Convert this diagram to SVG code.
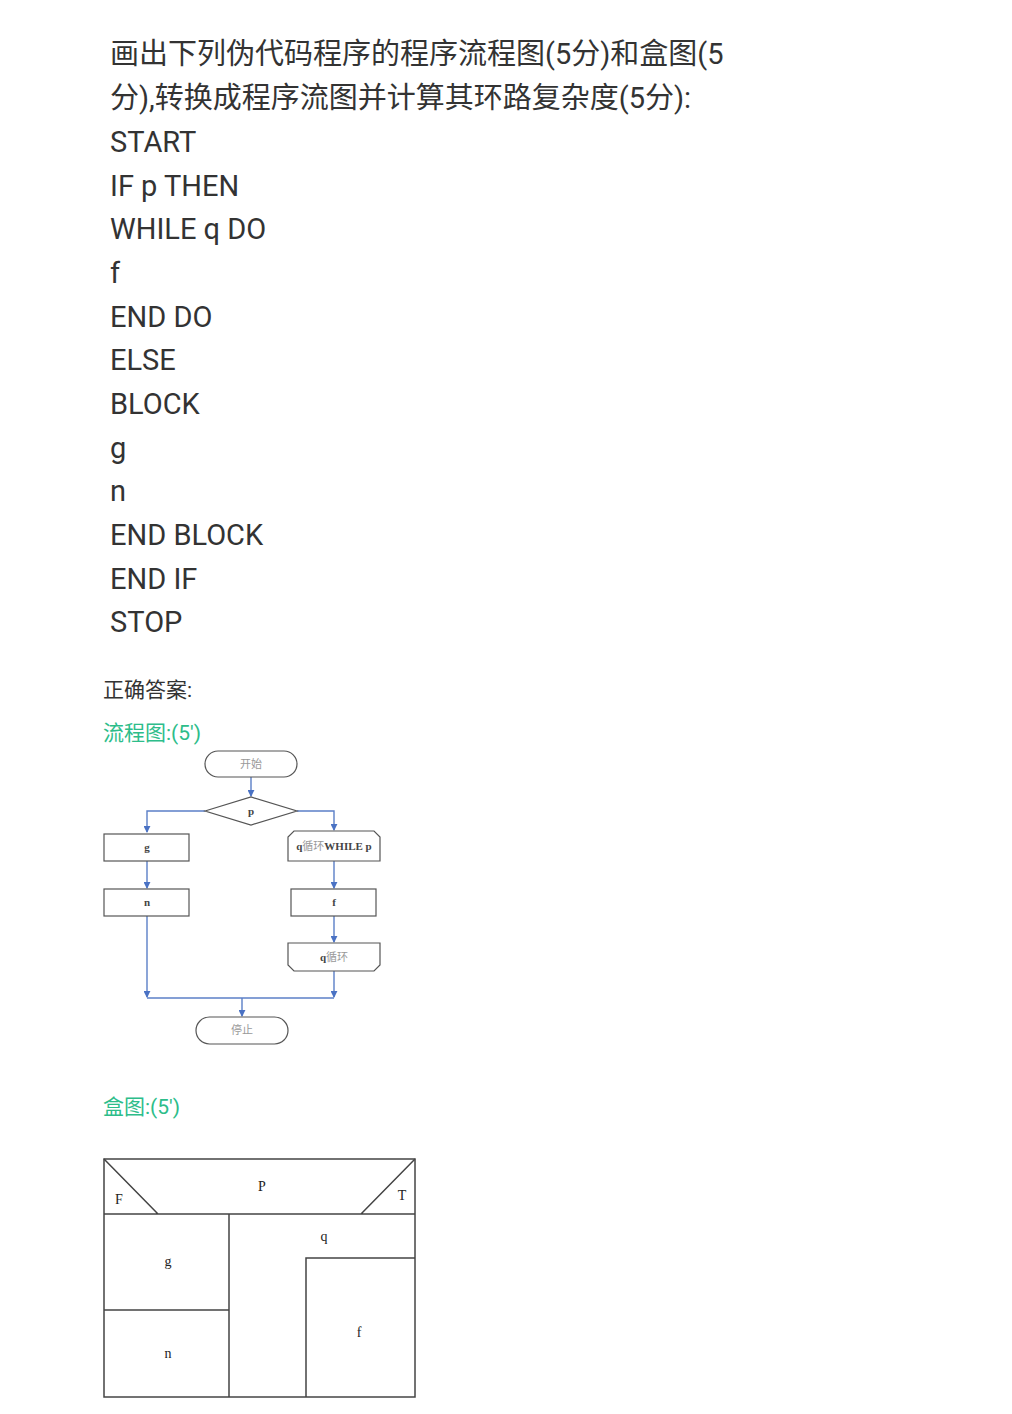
<svg xmlns="http://www.w3.org/2000/svg" width="1012" height="1414" viewBox="0 0 1012 1414">
<style>
.q{font-family:Roboto,"Noto Sans CJK SC",sans-serif;font-size:29px;fill:#333}
.a{font-family:Roboto,"Noto Sans CJK SC",sans-serif;font-size:21px;fill:#333}
.g{font-family:Roboto,"Noto Sans CJK SC",sans-serif;font-size:21px;fill:#2dbd8a}
.n{fill:#fff;stroke:#555;stroke-width:1.2}
.t{font-family:"Liberation Serif","Noto Sans CJK SC",serif;font-size:11px;fill:#444;text-anchor:middle;font-weight:bold}
.tc{fill:#999;font-weight:normal}
.c{fill:none;stroke:#5b7fc7;stroke-width:1.4}
.b{fill:none;stroke:#444;stroke-width:1.5}
.bt{font-family:"Liberation Serif",serif;font-size:14px;fill:#222;text-anchor:middle}
</style>
<defs>
<marker id="ar" viewBox="0 0 8 8" refX="7" refY="4" markerWidth="7" markerHeight="7" markerUnits="userSpaceOnUse" orient="auto">
<path d="M0,0 L8,4 L0,8 z" fill="#4a72c4"/>
</marker>
</defs>
<rect width="1012" height="1414" fill="#fff"/>
<g id="question">
<text class="q" x="110" y="64">画出下列伪代码程序的程序流程图(5分)和盒图(5</text>
<text class="q" x="110" y="108">分),转换成程序流图并计算其环路复杂度(5分):</text>
<text class="q" x="110" y="152">START</text>
<text class="q" x="110" y="196">IF p THEN</text>
<text class="q" x="110" y="239">WHILE q DO</text>
<text class="q" x="110" y="283">f</text>
<text class="q" x="110" y="327">END DO</text>
<text class="q" x="110" y="370">ELSE</text>
<text class="q" x="110" y="414">BLOCK</text>
<text class="q" x="110" y="458">g</text>
<text class="q" x="110" y="501">n</text>
<text class="q" x="110" y="545">END BLOCK</text>
<text class="q" x="110" y="589">END IF</text>
<text class="q" x="110" y="632">STOP</text>
</g>
<g id="answer-labels">
<text class="a" x="103" y="697">正确答案:</text>
<text class="g" x="103" y="740">流程图:(5')</text>
<text class="g" x="103" y="1114">盒图:(5')</text>
</g>
<g id="connectors">
<path class="c" d="M251,777 V796" marker-end="url(#ar)"/>
<path class="c" d="M205,811 H147 V832" marker-end="url(#ar)"/>
<path class="c" d="M297,811 H334 V830" marker-end="url(#ar)"/>
<path class="c" d="M147,861 V888" marker-end="url(#ar)"/>
<path class="c" d="M334,861 V888" marker-end="url(#ar)"/>
<path class="c" d="M334,916 V942" marker-end="url(#ar)"/>
<path class="c" d="M147,916 V997" marker-end="url(#ar)"/>
<path class="c" d="M334,971 V997" marker-end="url(#ar)"/>
<path class="c" d="M147,998 H334"/>
<path class="c" d="M242,998 V1016" marker-end="url(#ar)"/>
</g>
<g id="start">
<rect class="n" x="205" y="751" width="92" height="26" rx="13"/>
<text class="t tc" x="251" y="768">开始</text>
</g>
<g id="decision-p">
<path class="n" d="M205,811 L251,797 L297,811 L251,825 z"/>
<text class="t" x="251" y="815">p</text>
</g>
<g id="box-g">
<rect class="n" x="104" y="834" width="85" height="27"/>
<text class="t" x="147" y="851">g</text>
</g>
<g id="box-n">
<rect class="n" x="104" y="889" width="85" height="27"/>
<text class="t" x="147" y="906">n</text>
</g>
<g id="loop-start">
<path class="n" d="M294,831 H374 L380,837 V861 H288 V837 z"/>
<text class="t" x="334" y="850"><tspan>q</tspan><tspan class="tc">循环</tspan><tspan>WHILE p</tspan></text>
</g>
<g id="box-f">
<rect class="n" x="291" y="889" width="85" height="27"/>
<text class="t" x="334" y="906">f</text>
</g>
<g id="loop-end">
<path class="n" d="M288,943 H380 V965 L374,971 H294 L288,965 z"/>
<text class="t" x="334" y="961"><tspan>q</tspan><tspan class="tc">循环</tspan></text>
</g>
<g id="stop">
<rect class="n" x="196" y="1017" width="92" height="27" rx="13.5"/>
<text class="t tc" x="242" y="1034">停止</text>
</g>
<g id="box-chart">
<rect class="b" x="104" y="1159" width="311" height="238"/>
<path class="b" d="M104,1214 H415 M104,1159 L158,1214 M415,1159 L361,1214 M229,1214 V1397 M104,1310 H229 M306,1397 V1258 H415"/>
<text class="bt" x="262" y="1191">P</text>
<text class="bt" x="119" y="1204">F</text>
<text class="bt" x="402" y="1200">T</text>
<text class="bt" x="324" y="1241">q</text>
<text class="bt" x="168" y="1266">g</text>
<text class="bt" x="168" y="1358">n</text>
<text class="bt" x="359" y="1337">f</text>
</g>
</svg>
